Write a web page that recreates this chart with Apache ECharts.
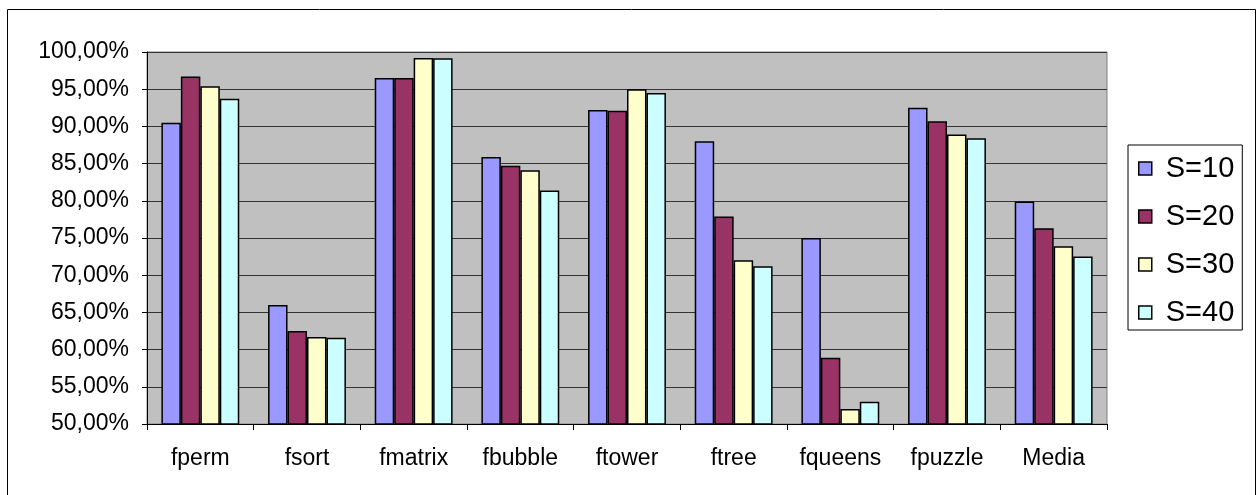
<!DOCTYPE html>
<html>
<head>
<meta charset="utf-8">
<script src="https://cdn.jsdelivr.net/npm/echarts@6/dist/echarts.min.js"></script>
<style>html,body{margin:0;padding:0;background:#fff;}#c{width:1257px;height:495px;}</style>
</head>
<body>
<div id="c"></div>
<script>
const categories = ['fperm','fsort','fmatrix','fbubble','ftower','ftree','fqueens','fpuzzle','Media'];
const seriesNames = ['S=10','S=20','S=30','S=40'];
const s10 = [90.5, 66.0, 96.5, 85.9, 92.2, 88.0, 75.0, 92.5, 79.9];
const s20 = [96.7, 62.5, 96.5, 84.7, 92.1, 77.9, 58.9, 90.7, 76.3];
const s30 = [95.4, 61.7, 99.2, 84.1, 95.0, 72.0, 52.0, 88.9, 73.9];
const s40 = [93.7, 61.6, 99.15, 81.4, 94.5, 71.2, 53.0, 88.4, 72.5];
const colors = ['#9999FF','#993366','#FFFFCC','#CCFFFF'];
const allValues = [s10, s20, s30, s40];

const chart = echarts.init(document.getElementById('c'), null, {renderer:'canvas'});
const font = 'Liberation Sans, Arial, sans-serif';
chart.setOption({
  animation: false,
  textStyle: {fontFamily: font},
  graphic: [{
    type: 'rect', z: -10,
    shape: {x: 7.5, y: 9.5, width: 1248, height: 520},
    style: {fill: '#fff', stroke: '#000', lineWidth: 1}
  }],
  grid: {left: 147, top: 52, right: 150, bottom: 71, show: true, backgroundColor: '#C0C0C0', borderColor: '#808080', borderWidth: 1},
  legend: {
    orient: 'vertical', left: 1128, top: 145,
    padding: [9, 8, 3, 10], itemGap: 19,
    itemWidth: 13, itemHeight: 13, icon: 'rect',
    borderColor: '#000', borderWidth: 1,
    itemStyle: {borderColor: '#000', borderWidth: 1.5},
    textStyle: {fontSize: 29, color: '#000', fontFamily: font, padding: [0,0,0,9]},
    data: seriesNames
  },
  xAxis: {
    type: 'category', data: categories,
    axisLine: {lineStyle: {color: '#000', width: 1}},
    axisTick: {show: true, length: 6, lineStyle: {color: '#000'}},
    axisLabel: {fontSize: 23, color: '#000', margin: 23, fontFamily: font},
    splitLine: {show: false}
  },
  yAxis: {
    type: 'value', min: 50, max: 100, interval: 5,
    axisLine: {show: true, lineStyle: {color: '#000', width: 1}},
    axisTick: {show: true, length: 5, lineStyle: {color: '#000'}},
    axisLabel: {fontSize: 23, color: '#000', margin: 18, fontFamily: font,
      formatter: v => v.toFixed(2).replace('.', ',') + '%'},
    splitLine: {show: true, lineStyle: {color: '#333', width: 1}}
  },
  series: allValues.map((vals, i) => ({
    name: seriesNames[i], type: 'bar', data: vals,
    barGap: '0%', barCategoryGap: '27%',
    itemStyle: {color: colors[i], borderColor: '#000', borderWidth: 1.5}
  }))
});
</script>
</body>
</html>
